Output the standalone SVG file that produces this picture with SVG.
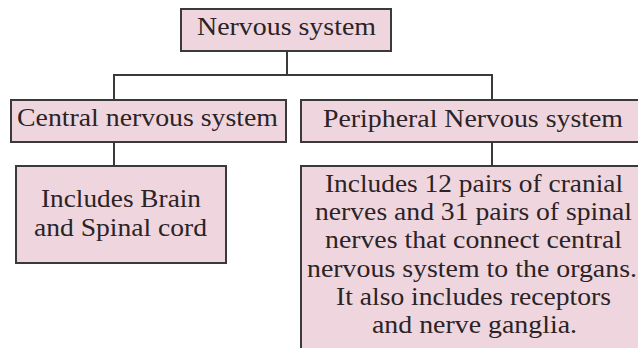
<svg xmlns="http://www.w3.org/2000/svg" width="638" height="348" viewBox="0 0 638 348">
<style>
.box{fill:#efd6de;stroke:#3a3a3a;stroke-width:2}
.t{font-family:"Liberation Serif","Times New Roman",serif;font-size:25px;fill:#2b2326}
.c{fill:none;stroke:#3a3a3a;stroke-width:2}
</style>
<rect width="638" height="348" fill="#ffffff"/>
<g id="connectors">
<path class="c" d="M287 51V75M114 75H492M114 74V100M492 74V100M114 142V166M492 142V166"/>
</g>
<g id="nervous-system">
<rect class="box" x="181" y="9" width="210" height="42"/>
<text class="t" x="197" y="35" textLength="179" lengthAdjust="spacingAndGlyphs">Nervous system</text>
</g>
<g id="central">
<rect class="box" x="11" y="100" width="275" height="42"/>
<text class="t" x="17" y="126" textLength="261" lengthAdjust="spacingAndGlyphs">Central nervous system</text>
</g>
<g id="peripheral">
<rect class="box" x="301" y="100" width="360" height="42"/>
<text class="t" x="323" y="127" textLength="300" lengthAdjust="spacingAndGlyphs">Peripheral Nervous system</text>
</g>
<g id="central-detail">
<rect class="box" x="16" y="166" width="210" height="97"/>
<text class="t" x="41" y="207" textLength="160" lengthAdjust="spacingAndGlyphs">Includes Brain</text>
<text class="t" x="34" y="236" textLength="173" lengthAdjust="spacingAndGlyphs">and Spinal cord</text>
</g>
<g id="peripheral-detail">
<rect class="box" x="301" y="166" width="360" height="200"/>
<text class="t" x="325" y="192" textLength="298" lengthAdjust="spacingAndGlyphs">Includes 12 pairs of cranial</text>
<text class="t" x="315" y="220" textLength="317" lengthAdjust="spacingAndGlyphs">nerves and 31 pairs of spinal</text>
<text class="t" x="325" y="248" textLength="297" lengthAdjust="spacingAndGlyphs">nerves that connect central</text>
<text class="t" x="307" y="277" textLength="330" lengthAdjust="spacingAndGlyphs">nervous system to the organs.</text>
<text class="t" x="336" y="305" textLength="275" lengthAdjust="spacingAndGlyphs">It also includes receptors</text>
<text class="t" x="372" y="333" textLength="205" lengthAdjust="spacingAndGlyphs">and nerve ganglia.</text>
</g>
</svg>
